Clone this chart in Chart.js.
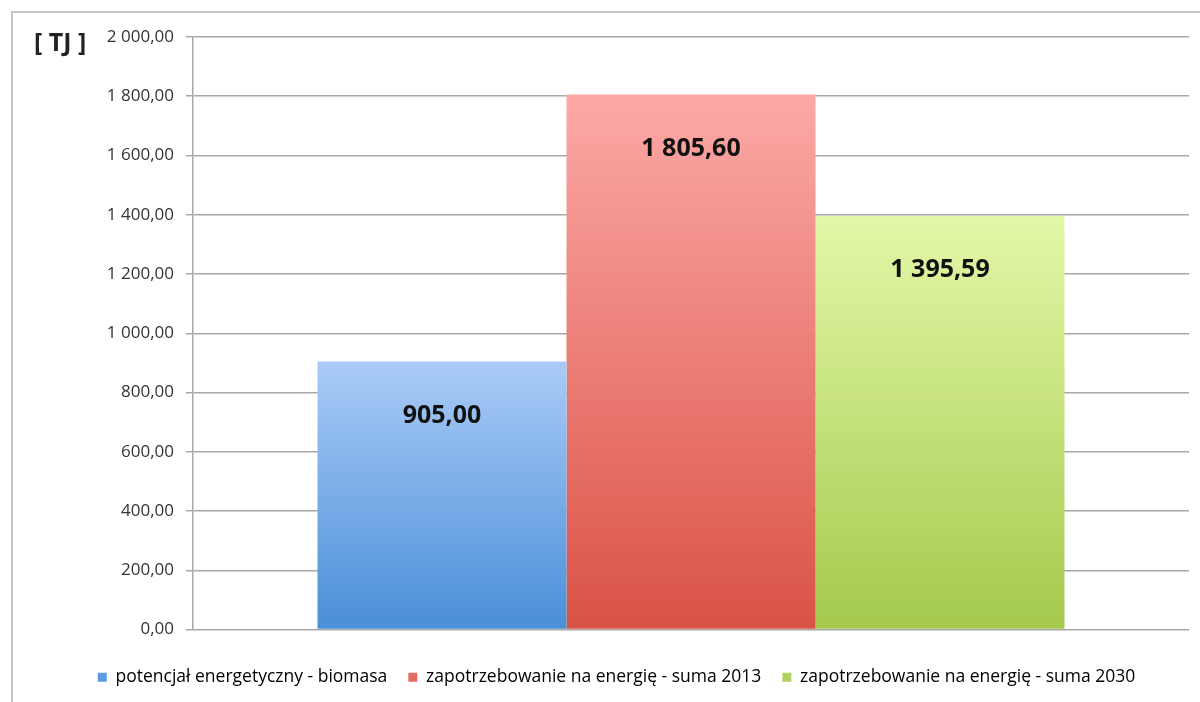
<!DOCTYPE html>
<html>
<head>
<meta charset="utf-8">
<script src="https://cdn.jsdelivr.net/npm/chart.js@4"></script>
<style>
  html, body { margin: 0; padding: 0; background: #fff; }
  #wrap { width: 1200px; height: 702px; }
</style>
</head>
<body>
<div id="wrap"><canvas id="wykres" width="1200" height="702"></canvas></div>
<script>
// dane
const kategorie = [''];
const serie = [
  'potencjał energetyczny - biomasa',
  'zapotrzebowanie na energię - suma 2013',
  'zapotrzebowanie na energię - suma 2030'
];
const wartosci = [905.00, 1805.60, 1395.59];
const jednostka = '[ TJ ]';
const osMin = 0;
const osMax = 2000;
const osKrok = 200;

// kolory gradientu (góra, dół) i kolor w legendzie
const koloryGora = ['#aacbf7', '#fca9a6', '#e3f8a8'];
const koloryDol = ['#4a8fd8', '#da5246', '#a5c94d'];
const koloryLegenda = ['#5b9ce0', '#e46a62', '#b0d25e'];

const FONT = '"Open Sans", sans-serif';

// format polski: 1 805,60
const formatPL = (v) => {
  const [calk, ulam] = Number(v).toFixed(2).split('.');
  return calk.replace(/\B(?=(\d{3})+(?!\d))/g, ' ') + ',' + ulam;
};

const gradient = (ctx, i) => {
  const chart = ctx.chart;
  const y = chart.scales.y;
  if (!y || ctx.raw === undefined) return koloryDol[i];
  const gora = y.getPixelForValue(ctx.raw);
  const dol = y.getPixelForValue(0);
  const g = chart.ctx.createLinearGradient(0, gora, 0, dol);
  g.addColorStop(0, koloryGora[i]);
  g.addColorStop(1, koloryDol[i]);
  return g;
};

// ramka, jednostka i etykiety wartości
const dodatki = {
  id: 'dodatki',
  afterLayout(chart) {
    // legenda lekko w prawo, jak w oryginale
    chart.legend.left += 16;
    chart.legend.right += 16;
  },
  beforeDraw(chart) {
    const c = chart.ctx;
    c.save();
    c.strokeStyle = '#c4c4c4';
    c.lineWidth = 2;
    c.beginPath();
    c.moveTo(12, 702);
    c.lineTo(12, 12);
    c.lineTo(1200, 12);
    c.stroke();
    c.restore();
  },
  afterDatasetsDraw(chart) {
    const c = chart.ctx;
    c.save();
    c.font = 'bold 25px ' + FONT;
    c.fillStyle = '#111';
    c.textAlign = 'center';
    c.textBaseline = 'middle';
    chart.data.datasets.forEach((ds, i) => {
      const el = chart.getDatasetMeta(i).data[0];
      c.fillText(formatPL(ds.data[0]), el.x, el.y + 54);
    });
    c.font = 'bold 25px ' + FONT;
    c.fillStyle = '#222';
    c.textAlign = 'left';
    c.fillText(jednostka, 34, 44);
    c.restore();
  }
};

new Chart(document.getElementById('wykres'), {
  type: 'bar',
  data: {
    labels: kategorie,
    datasets: serie.map((nazwa, i) => ({
      label: nazwa,
      data: [wartosci[i]],
      backgroundColor: (ctx) => gradient(ctx, i),
      borderWidth: 0
    }))
  },
  options: {
    responsive: false,
    animation: false,
    categoryPercentage: 0.75,
    barPercentage: 1,
    layout: { padding: { left: 12, top: 37, right: 11, bottom: 6 } },
    plugins: {
      legend: {
        position: 'bottom',
        labels: {
          font: { family: FONT, size: 17.5 },
          color: '#333',
          boxWidth: 9,
          boxHeight: 9,
          padding: 21,
          generateLabels: (chart) => chart.data.datasets.map((ds, i) => ({
            text: ds.label,
            fillStyle: koloryLegenda[i],
            strokeStyle: koloryLegenda[i],
            lineWidth: 0,
            datasetIndex: i
          }))
        }
      },
      tooltip: { enabled: false }
    },
    scales: {
      x: {
        grid: { display: false },
        border: { display: false },
        ticks: { display: false },
        afterFit: (s) => { s.height = 18; }
      },
      y: {
        min: osMin,
        max: osMax,
        ticks: {
          stepSize: osKrok,
          color: '#333',
          font: { family: FONT, size: 17 },
          padding: 12,
          callback: (v) => formatPL(v)
        },
        grid: { color: '#a8a8a8', lineWidth: 1.5, tickLength: 7 },
        border: { color: '#a8a8a8', width: 1.5 },
        afterFit: (s) => { s.width = 181; }
      }
    }
  },
  plugins: [dodatki]
});
</script>
</body>
</html>
